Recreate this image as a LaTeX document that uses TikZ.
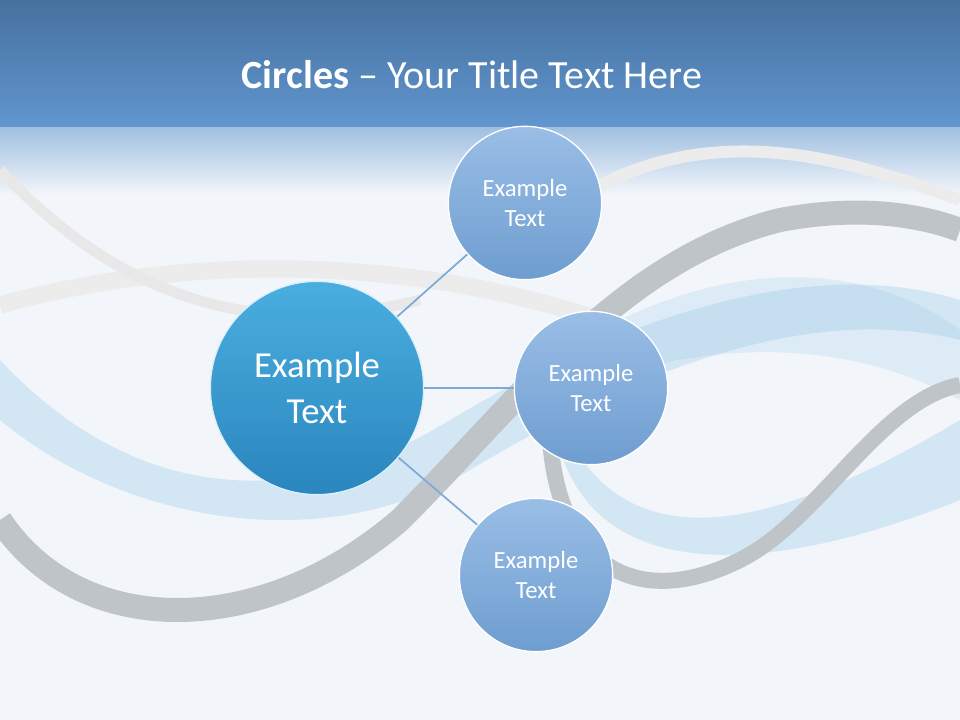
\documentclass[tikz,border=0pt]{standalone}
\usepackage{fontspec}
\setmainfont{Carlito}
\definecolor{hdA}{HTML}{46719F}
\definecolor{hdB}{HTML}{6196CF}
\definecolor{bg}{HTML}{F2F6FA}
\definecolor{grayband}{HTML}{BFC4C9}
\definecolor{swoosh}{HTML}{9CCBEA}
\definecolor{smallA}{HTML}{9ABEE6}
\definecolor{smallB}{HTML}{6E9DD0}
\definecolor{bigA}{HTML}{4AAEDF}
\definecolor{bigB}{HTML}{2A86BE}
\definecolor{link}{HTML}{7FA9D6}
\tikzset{
 small/.style={circle,minimum size=115pt,inner sep=0pt,draw=white,line width=1,
   top color=smallA,bottom color=smallB,text=white,font=\fontsize{18.5}{23}\selectfont,align=center},
 big/.style={circle,minimum size=160pt,inner sep=0pt,draw=white!80!bigA,line width=1,
   top color=bigA,bottom color=bigB,text=white,font=\fontsize{27.5}{34}\selectfont,align=center},
 linkline/.style={draw=link,line width=1.3}
}
\begin{document}
\begin{tikzpicture}[x=0.75pt,y=-0.75pt]
\useasboundingbox (0,0) rectangle (960,720);
\fill[bg] (0,0) rectangle (960,720);
% header
\shade[top color=hdA,bottom color=hdB] (0,0) rectangle (960,128);
\shade[top color=hdB!60!white,bottom color=bg] (0,128) rectangle (960,195);
% light gray upper arcs
\draw[gray!15,line width=13] (0,305) .. controls (200,250) and (420,260) .. (600,320);
\draw[gray!18,line width=8] (0,170) .. controls (150,330) and (300,330) .. (420,300);
\draw[gray!15,line width=9] (560,210) .. controls (700,110) and (850,160) .. (960,200);
% blue swooshes
\fill[swoosh,opacity=0.35] (0,360) .. controls (150,520) and (320,500) .. (450,420)
  .. controls (600,330) and (800,250) .. (960,300) -- (960,340)
  .. controls (800,300) and (620,380) .. (470,470) .. controls (320,560) and (120,520) .. (0,420) -- cycle;
\fill[swoosh,opacity=0.35] (560,420) .. controls (620,560) and (760,540) .. (960,420) -- (960,500)
  .. controls (760,580) and (600,580) .. (560,450) -- cycle;
\fill[swoosh,opacity=0.25] (600,330) .. controls (750,250) and (880,270) .. (960,330) -- (960,400)
  .. controls (850,340) and (720,340) .. (600,380) -- cycle;
% gray bands
\draw[grayband,line width=18] (0,520) .. controls (80,640) and (260,640) .. (400,520)
  .. controls (520,400) and (620,260) .. (780,220) .. controls (860,205) and (920,215) .. (960,230);
\draw[grayband,line width=12] (550,440) .. controls (560,570) and (640,610) .. (740,560)
  .. controls (820,520) and (880,400) .. (960,385);
% title
\node[text=white,font=\fontsize{30}{36}\selectfont] (title) at (472,75) {\textbf{Circles} – Your Title Text Here};
% circles
\node[big] (c) at (317,388) {Example\\Text};
\node[small] (a) at (525,203) {Example\\Text};
\node[small] (b) at (591,388) {Example\\Text};
\node[small] (d) at (536,575) {Example\\Text};
\draw[linkline] (c) -- (a);
\draw[linkline] (c) -- (b);
\draw[linkline] (c) -- (d);
\end{tikzpicture}
\end{document}
